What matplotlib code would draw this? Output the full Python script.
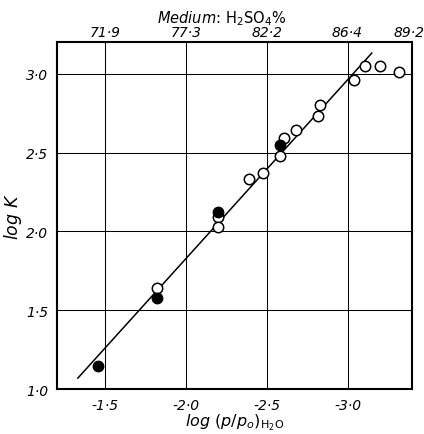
import numpy as np
import matplotlib
matplotlib.use("Agg")
import matplotlib.pyplot as plt

# ── DATA ──
open_x = [-1.82, -2.20, -2.20, -2.39, -2.475, -2.58, -2.605, -2.68, -2.82, -2.83,
          -3.04, -3.11, -3.20, -3.32]
open_y = [1.64, 2.09, 2.03, 2.33, 2.37, 2.48, 2.59, 2.64, 2.73, 2.80,
          2.96, 3.05, 3.05, 3.01]
filled_x = [-1.457, -1.82, -2.20, -2.58]
filled_y = [1.15, 1.58, 2.12, 2.55]

# fitted straight line (end points)
fit_x = [-1.33, -3.15]
fit_y = [1.07, 3.13]

x_ticks = [-1.5, -2.0, -2.5, -3.0]
x_ticklabels = ["-1·5", "-2·0", "-2·5", "-3·0"]
y_ticks = [1.0, 1.5, 2.0, 2.5, 3.0]
y_ticklabels = ["1·0", "1·5", "2·0", "2·5", "3·0"]
top_ticks = [-1.5, -2.0, -2.5, -3.0, -3.38]
top_ticklabels = ["71·9", "77·3", "82·2", "86·4", "89·2"]

plt.rcParams["mathtext.fontset"] = "dejavusans"

fig = plt.figure(figsize=(4.24, 4.35), dpi=100)
ax = fig.add_axes([0.134, 0.103, 0.838, 0.798])

ax.set_xlim(-1.2, -3.4)
ax.set_ylim(1.0, 3.2)

ax.set_xticks(x_ticks)
ax.set_xticklabels(x_ticklabels, fontsize=10, style="italic")
ax.set_yticks(y_ticks)
ax.set_yticklabels(y_ticklabels, fontsize=10, style="italic")
ax.tick_params(length=0, pad=6)
ax.grid(True, color="black", linewidth=0.75)
ax.set_axisbelow(True)
for sp in ax.spines.values():
    sp.set_linewidth(1.5)

ax.plot(fit_x, fit_y, color="black", linewidth=1.1, zorder=3)
ax.plot(open_x, open_y, "o", markersize=7.5, markerfacecolor="white",
        markeredgecolor="black", markeredgewidth=1.1, zorder=4)
ax.plot(filled_x, filled_y, "o", markersize=7.5, markerfacecolor="black",
        markeredgecolor="black", zorder=5)

# top axis: H2SO4 concentration
top = ax.twiny()
top.set_xlim(ax.get_xlim())
top.set_xticks(top_ticks)
top.set_xticklabels(top_ticklabels, fontsize=10, style="italic")
top.tick_params(length=0, pad=2)
for sp in top.spines.values():
    sp.set_visible(False)

fig.text(0.523, 0.958, r"$\mathit{Medium}$: H$_2$SO$_4$%", ha="center", va="center",
         fontsize=10.5)

ax.set_xlabel(r"$\mathit{log\ (p/p_o)}_{\mathrm{H_2O}}$", fontsize=11.5, labelpad=0)
ax.set_ylabel(r"$\mathit{log\ K}$", fontsize=12.5, labelpad=2)

fig.savefig("out.png", dpi=100, facecolor="white")
plt.close()
